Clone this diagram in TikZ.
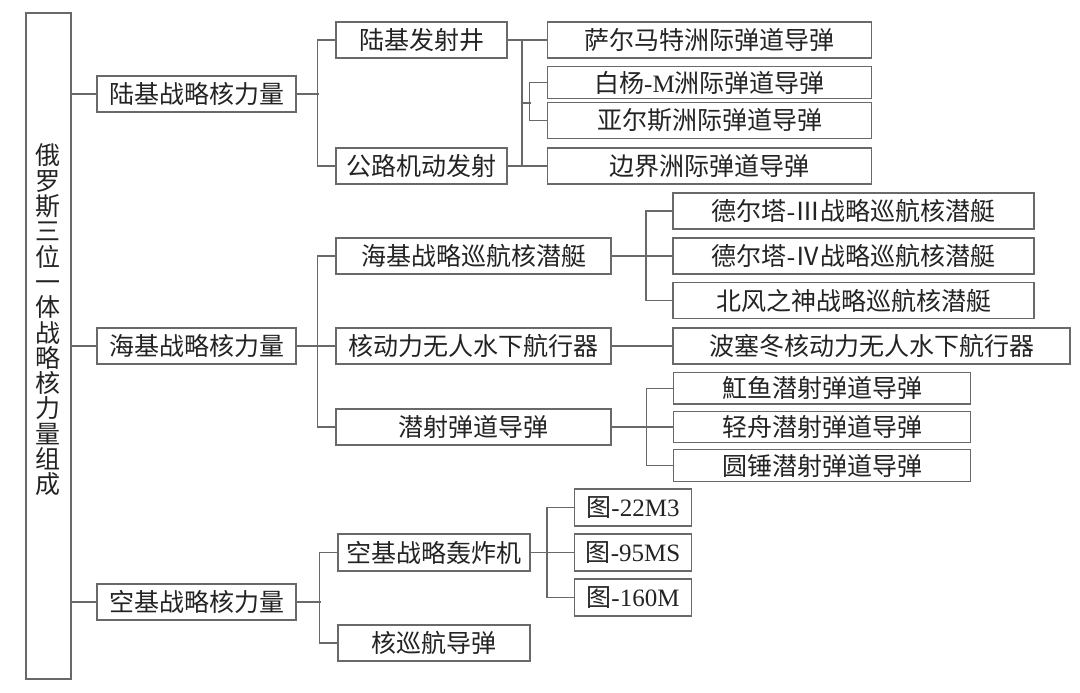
\documentclass[tikz,border=0pt]{standalone}
\usepackage{fontspec}
\setmainfont{Liberation Serif}
\newfontfamily\cjk{Noto Sans CJK SC}
\newcommand{\lat}[1]{{\rmfamily #1}}
\definecolor{linegray}{RGB}{105,105,105}
\definecolor{textdark}{RGB}{35,35,35}
\tikzset{
  box/.style={draw=linegray, line width=0.75pt, inner sep=0pt, minimum height=18pt,
    text=textdark, font=\cjk\fontsize{12.5}{15}\selectfont},
  link/.style={draw=linegray, line width=0.75pt}
}
\begin{document}
\begin{tikzpicture}[x=0.5pt,y=-0.5pt]
\useasboundingbox (0,0) rectangle (1080,692);
\node[box, minimum width=22.5pt, minimum height=333pt] (root) at (48.5,346) {};
\node[text=textdark, align=center, inner sep=0pt, font=\cjk\fontsize{12.5}{12.65}\selectfont] (roottext) at (48,320)
  {俄\\罗\\斯\\三\\位\\一\\体\\战\\略\\核\\力\\量\\组\\成};
\node[box, minimum width=99.5pt] (land) at (196.5,94) {陆基战略核力量};
\node[box, minimum width=99.5pt] (sea) at (196.5,346) {海基战略核力量};
\node[box, minimum width=99.5pt] (air) at (196.5,602) {空基战略核力量};
\node[box, minimum width=85.5pt] (silo) at (421.5,40) {陆基发射井};
\node[box, minimum width=85.5pt] (road) at (421.5,166) {公路机动发射};
\node[box, minimum width=137.5pt] (ssbn) at (473.5,256) {海基战略巡航核潜艇};
\node[box, minimum width=137.5pt] (uuv) at (473.5,346) {核动力无人水下航行器};
\node[box, minimum width=137.5pt] (slbm) at (473.5,427) {潜射弹道导弹};
\node[box, minimum width=96pt, minimum height=18.5pt] (bomber) at (434,552.5) {空基战略轰炸机};
\node[box, minimum width=96pt] (cruise) at (434,643) {核巡航导弹};
\node[box, minimum width=162pt] (sarmat) at (709.5,40) {萨尔马特洲际弹道导弹};
\node[box, minimum width=162pt, minimum height=15.8pt] (topol) at (709.5,82.5) {白杨\lat{-M}洲际弹道导弹};
\node[box, minimum width=162pt, minimum height=17.8pt] (yars) at (709.5,120.5) {亚尔斯洲际弹道导弹};
\node[box, minimum width=162pt] (border) at (709.5,166) {边界洲际弹道导弹};
\node[box, minimum width=180.5pt] (d3) at (853.5,211) {德尔塔\lat{-}Ⅲ战略巡航核潜艇};
\node[box, minimum width=180.5pt] (d4) at (853.5,256) {德尔塔\lat{-}Ⅳ战略巡航核潜艇};
\node[box, minimum width=180.5pt, minimum height=17.8pt] (borei) at (853.5,300.5) {北风之神战略巡航核潜艇};
\node[box, minimum width=198.5pt] (poseidon) at (871.5,346) {波塞冬核动力无人水下航行器};
\node[box, minimum width=148.5pt, minimum height=15.7pt] (hongyu) at (822,388.3) {魟鱼潜射弹道导弹};
\node[box, minimum width=148.5pt, minimum height=15.7pt] (qingzhou) at (822,427) {轻舟潜射弹道导弹};
\node[box, minimum width=148.5pt, minimum height=16.2pt] (yuanchui) at (822,465.5) {圆锤潜射弹道导弹};
\node[box, minimum width=58.7pt, minimum height=18.5pt] (tu22) at (633,507.5) {图\lat{-22M3}};
\node[box, minimum width=58.7pt, minimum height=18.5pt] (tu95) at (633,552.5) {图\lat{-95MS}};
\node[box, minimum width=58.7pt, minimum height=18.5pt] (tu160) at (633,597.5) {图\lat{-160M}};
\draw[link] (root.east |- land.west) -- (land.west);
\draw[link] (root.east |- sea.west) -- (sea.west);
\draw[link] (root.east |- air.west) -- (air.west);
\draw[link] (land.east) -- ++(22,0);
\draw[link] (silo.west) -- ++(-18,0) |- (road.west);
\draw[link] (silo.east) -- (sarmat.west);
\draw[link] (road.east) -- (border.west);
\draw[link] (silo.east) ++(14,0) -- ++(0,126);
\draw[link] (silo.east) ++(14,63) -- ++(9,0);
\draw[link] (topol.west) -- ++(-17.5,0) |- (yars.west);
\draw[link] (sea.east) -- (uuv.west);
\draw[link] (ssbn.west) -- ++(-18,0) |- (slbm.west);
\draw[link] (uuv.east) -- (poseidon.west);
\draw[link] (ssbn.east) -- (d4.west);
\draw[link] (d3.west) -- ++(-26.5,0) |- (borei.west);
\draw[link] (slbm.east) -- (qingzhou.west);
\draw[link] (hongyu.west) -- ++(-26.5,0) |- (yuanchui.west);
\draw[link] (air.east) -- ++(24,0);
\draw[link] (bomber.west) -- ++(-18,0) |- (cruise.west);
\draw[link] (bomber.east) -- (tu95.west);
\draw[link] (tu22.west) -- ++(-26.5,0) |- (tu160.west);
\end{tikzpicture}
\end{document}
